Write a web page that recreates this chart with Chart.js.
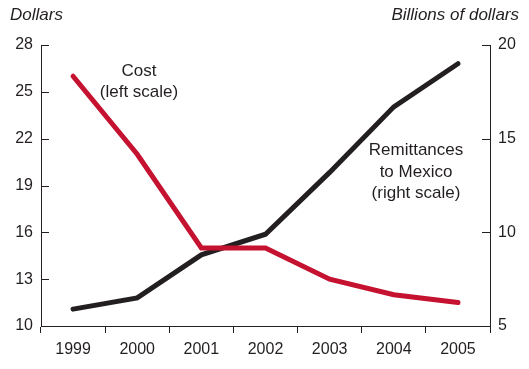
<!DOCTYPE html>
<html>
<head>
<meta charset="utf-8">
<script src="https://cdn.jsdelivr.net/npm/chart.js@4"></script>
<style>
  html, body { margin: 0; padding: 0; background: #fff; }
  #wrap { width: 529px; height: 369px; position: relative; }
</style>
</head>
<body>
<div id="wrap"><canvas id="chart"></canvas></div>
<script>
// data
const years = ["1999", "2000", "2001", "2002", "2003", "2004", "2005"];
const cost = [26.0, 21.0, 15.0, 15.0, 13.0, 12.0, 11.5];          // dollars, left scale
const remittances = [5.9, 6.5, 8.8, 9.9, 13.2, 16.7, 19.0];      // billions, right scale
const leftTicks = [10, 13, 16, 19, 22, 25, 28];
const rightTicks = [5, 10, 15, 20];

const ink = '#231f20';
const red = '#c41230';
const font = 'Liberation Sans, Arial, Helvetica, sans-serif';

// inward tick marks on both y axes + text labels
const decorations = {
    id: 'decorations',
    afterDraw(chart) {
        const ctx = chart.ctx;
        const area = chart.chartArea;
        const yl = chart.scales.yLeft;
        const yr = chart.scales.yRight;
        ctx.save();
        ctx.strokeStyle = ink;
        ctx.lineWidth = 1;
        leftTicks.forEach(v => {
            const y = Math.round(yl.getPixelForValue(v)) + 0.5;
            ctx.beginPath();
            ctx.moveTo(area.left, y);
            ctx.lineTo(area.left + 8, y);
            ctx.stroke();
        });
        rightTicks.forEach(v => {
            const y = Math.round(yr.getPixelForValue(v)) + 0.5;
            ctx.beginPath();
            ctx.moveTo(area.right, y);
            ctx.lineTo(area.right - 8, y);
            ctx.stroke();
        });

        ctx.fillStyle = ink;
        ctx.textBaseline = 'middle';
        ctx.font = 'italic 17px ' + font;
        ctx.textAlign = 'left';
        ctx.fillText('Dollars', 10, 15);
        ctx.textAlign = 'right';
        ctx.fillText('Billions of dollars', 519, 15);

        ctx.font = '17px ' + font;
        ctx.textAlign = 'center';
        ctx.fillText('Cost', 139, 71);
        ctx.fillText('(left scale)', 139, 92);
        ctx.fillText('Remittances', 416, 150);
        ctx.fillText('to Mexico', 416, 172);
        ctx.fillText('(right scale)', 416, 193);
        ctx.restore();
    }
};

new Chart(document.getElementById('chart'), {
    type: 'line',
    data: {
        labels: years,
        datasets: [
            {
                label: 'Cost',
                data: cost,
                yAxisID: 'yLeft',
                borderColor: red,
                borderWidth: 5,
                borderCapStyle: 'round',
                pointRadius: 0,
                tension: 0
            },
            {
                label: 'Remittances to Mexico',
                data: remittances,
                yAxisID: 'yRight',
                borderColor: ink,
                borderWidth: 5,
                borderCapStyle: 'round',
                pointRadius: 0,
                tension: 0
            }
        ]
    },
    options: {
        responsive: true,
        maintainAspectRatio: false,
        animation: false,
        layout: { padding: { top: 45, left: 0, right: 0, bottom: 0 } },
        plugins: { legend: { display: false }, tooltip: { enabled: false } },
        scales: {
            x: {
                offset: true,
                grid: { offset: true, drawOnChartArea: false, tickLength: 7, color: ink },
                border: { display: true, color: ink, width: 1 },
                ticks: { color: ink, font: { family: font, size: 16 }, padding: 7, maxRotation: 0, autoSkip: false },
                afterFit(scale) { scale.height = 43; }
            },
            yLeft: {
                position: 'left',
                min: 10,
                max: 28,
                afterBuildTicks(scale) { scale.ticks = leftTicks.map(v => ({ value: v })); },
                grid: { drawOnChartArea: false, drawTicks: false },
                border: { display: true, color: ink, width: 1 },
                ticks: { color: ink, font: { family: font, size: 16 }, padding: 8 },
                afterFit(scale) { scale.width = 41; }
            },
            yRight: {
                position: 'right',
                min: 5,
                max: 20,
                afterBuildTicks(scale) { scale.ticks = rightTicks.map(v => ({ value: v })); },
                grid: { drawOnChartArea: false, drawTicks: false },
                border: { display: true, color: ink, width: 1 },
                ticks: { color: ink, font: { family: font, size: 16 }, padding: 8 },
                afterFit(scale) { scale.width = 39; }
            }
        }
    },
    plugins: [decorations]
});
</script>
</body>
</html>
